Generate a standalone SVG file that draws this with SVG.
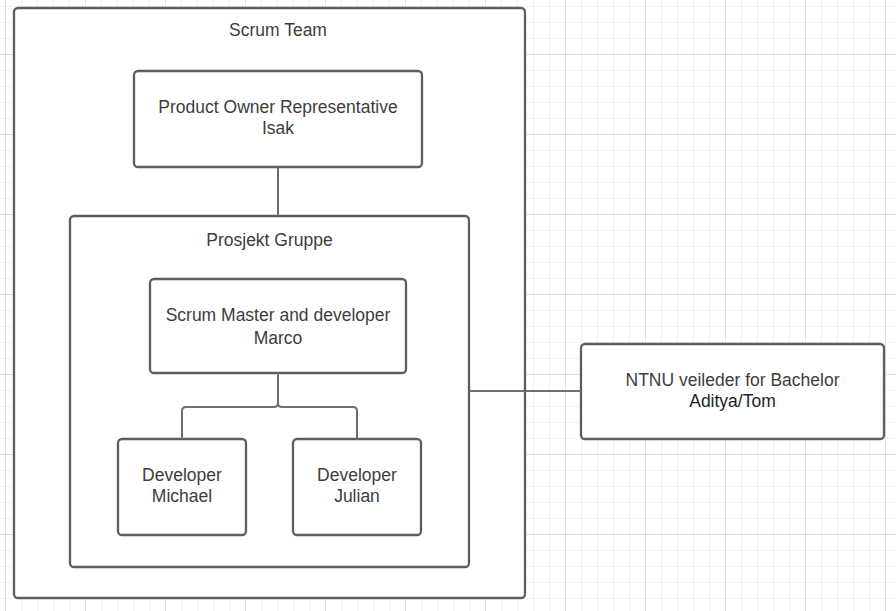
<svg xmlns="http://www.w3.org/2000/svg" width="896" height="611" viewBox="0 0 896 611">
  <defs>
    <pattern id="minor" patternUnits="userSpaceOnUse" x="5" y="6" width="16" height="16">
      <rect x="0" y="0" width="1" height="16" fill="#f1f1f1"/>
      <rect x="0" y="0" width="16" height="1" fill="#f1f1f1"/>
    </pattern>
    <pattern id="major" patternUnits="userSpaceOnUse" x="5" y="54" width="80" height="80">
      <rect x="0" y="0" width="1" height="80" fill="#e0e0e0"/>
      <rect x="0" y="0" width="80" height="1" fill="#e0e0e0"/>
    </pattern>
    <style>
      .box { fill: #ffffff; stroke: #5e5e5e; stroke-width: 2.3; }
      .conn { fill: none; stroke: #6e6e6e; stroke-width: 2; }
      .t { font-family: "Liberation Sans", Arial, sans-serif; font-size: 17.5px; fill: #3d3d3d; text-anchor: middle; }
      .dark { fill: #1e1e1e; }
    </style>
  </defs>
  <rect x="0" y="0" width="896" height="611" fill="#ffffff"/>
  <rect x="0" y="0" width="896" height="611" fill="url(#minor)"/>
  <rect x="0" y="0" width="896" height="611" fill="url(#major)"/>

  <g id="scrum-team">
    <rect class="box" x="14" y="8" width="511" height="590" rx="4"/>
    <text class="t" x="278" y="35.5">Scrum Team</text>
  </g>

  <g id="product-owner">
    <rect class="box" x="134" y="71" width="288" height="96" rx="4"/>
    <text class="t" x="278" y="112.5">Product Owner Representative</text>
    <text class="t" x="278" y="134">Isak</text>
  </g>

  <g id="prosjekt-gruppe">
    <rect class="box" x="70" y="216" width="399" height="351" rx="4"/>
    <text class="t" x="269.5" y="246">Prosjekt Gruppe</text>
  </g>

  <g id="scrum-master">
    <rect class="box" x="150" y="279" width="256" height="94" rx="4"/>
    <text class="t" x="278" y="321">Scrum Master and developer</text>
    <text class="t" x="278" y="343.5">Marco</text>
  </g>

  <g id="dev-michael">
    <rect class="box" x="118" y="439" width="128" height="96" rx="4"/>
    <text class="t" x="182" y="481">Developer</text>
    <text class="t" x="182" y="502">Michael</text>
  </g>

  <g id="dev-julian">
    <rect class="box" x="293" y="439" width="128" height="96" rx="4"/>
    <text class="t" x="357" y="481">Developer</text>
    <text class="t" x="357" y="502">Julian</text>
  </g>

  <g id="ntnu">
    <rect class="box" x="581" y="344" width="303" height="95" rx="4"/>
    <text class="t" x="732.5" y="385.5">NTNU veileder for Bachelor</text>
    <text class="t dark" x="732.5" y="406.5">Aditya/Tom</text>
  </g>

  <g id="connectors">
    <path class="conn" d="M278,167 V216"/>
    <path class="conn" d="M469,391 H581"/>
    <path class="conn" d="M278,373 V403"/>
    <path class="conn" d="M182,439 V411 Q182,407 186,407 H274 Q278,407 278,403"/>
    <path class="conn" d="M357,439 V411 Q357,407 353,407 H282 Q278,407 278,403"/>
  </g>
</svg>
